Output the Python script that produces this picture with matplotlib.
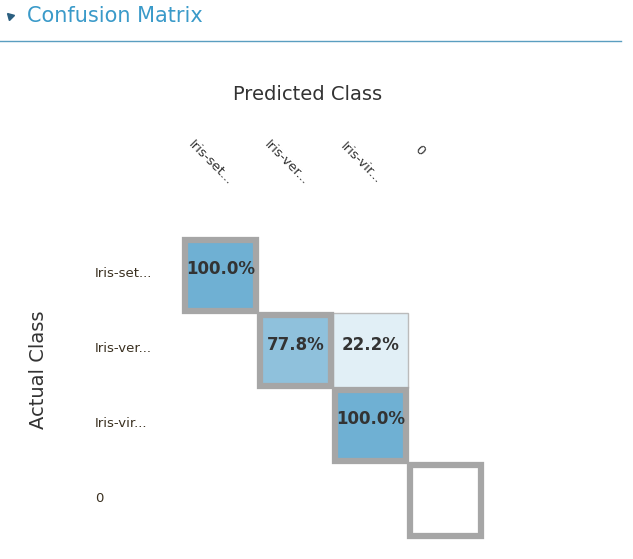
import numpy as np
import matplotlib.pyplot as plt
from matplotlib.patches import Rectangle

classes = ["Iris-set...", "Iris-ver...", "Iris-vir...", "0"]
# row = actual, col = predicted, percent (None = empty)
values = [
    [100.0, None, None, None],
    [None, 77.8, 22.2, None],
    [None, None, 100.0, None],
    [None, None, None, None],
]

fig = plt.figure(figsize=(6.33, 5.59), dpi=100)
ax = fig.add_axes([0, 0, 1, 1])
ax.set_xlim(0, 633)
ax.set_ylim(559, 0)
ax.axis("off")

# header
ax.plot([10], [16], marker=(3, 0, 45), color="#2b5f80", markersize=6)
ax.text(27, 16, "Confusion Matrix", color="#3a9ac9", fontsize=15, va="center", ha="left")
ax.plot([0, 621], [41, 41], color="#5a9ec0", lw=1)

ax.text(308, 95, "Predicted Class", color="#333333", fontsize=14, ha="center", va="center")
ax.text(38, 370, "Actual Class", color="#333333", fontsize=14, ha="center", va="center", rotation=90)

x0, y0, cs = 183, 238, 75

def cell_color(v):
    if v is None:
        return "white"
    if v >= 99:
        return "#6fb0d3"
    if v >= 50:
        return "#8fc1dc"
    return "#e1eff6"

for i, row in enumerate(values):
    for j, v in enumerate(row):
        x, y = x0 + j * cs, y0 + i * cs
        if v is not None and i != j:
            ax.add_patch(Rectangle((x, y), cs, cs, facecolor=cell_color(v), edgecolor="#bbbbbb", lw=1))
        if v is not None:
            ax.text(x + cs / 2, y + cs / 2 - 6, f"{v:.1f}%", fontsize=12, fontweight="bold",
                    color="#333333", ha="center", va="center")

for k in range(len(classes)):
    x, y = x0 + k * cs, y0 + k * cs
    v = values[k][k]
    ax.add_patch(Rectangle((x + 2, y + 2), cs - 4, cs - 4, facecolor=cell_color(v),
                           edgecolor="#a6a6a6", lw=4.5, zorder=1))

for k, name in enumerate(classes):
    ax.text(95, y0 + k * cs + cs / 2 - 2, name, fontsize=9.5, color="#3a3020", ha="left", va="center")
    if name == "0":
        ax.text(420, 150, name, fontsize=9.5, color="#333333", ha="center", va="center", rotation=-45)
    else:
        ax.text(x0 + k * cs + 28, 163, name, fontsize=9.5, color="#333333", ha="center", va="center",
                rotation=-45, rotation_mode="anchor")

fig.savefig("out.png", dpi=100)
